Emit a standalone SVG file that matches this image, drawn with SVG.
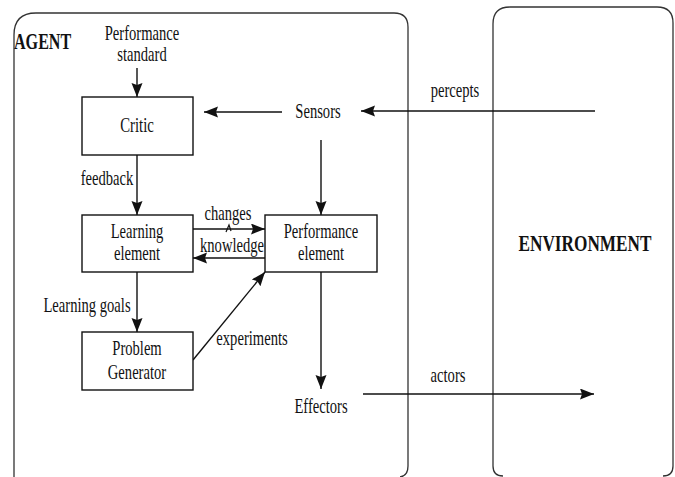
<svg xmlns="http://www.w3.org/2000/svg" width="675" height="477" viewBox="0 0 675 477">
  <defs>
    <marker id="arrow" markerUnits="userSpaceOnUse" markerWidth="15" markerHeight="12" refX="14" refY="5.5" orient="auto">
      <path d="M0,0 L14,5.5 L0,11 L2,5.5 Z" fill="#111"/>
    </marker>
    <style>
      .frame { fill: none; stroke: #333; stroke-width: 1.3; }
      .box { fill: #fff; stroke: #111; stroke-width: 1.4; }
      .edge { fill: none; stroke: #111; stroke-width: 1.4; marker-end: url(#arrow); }
      .t { font-family: "Liberation Serif", "Times New Roman", serif; font-size: 20px; fill: #111; text-anchor: middle; }
      .h { font-family: "Liberation Serif", "Times New Roman", serif; font-size: 23px; font-weight: bold; fill: #111; }
    </style>
  </defs>
  <rect width="675" height="477" fill="#fff"/>

  <!-- Agent and environment frames -->
  <g id="agent">
    <path class="frame" d="M14,477 Q14,470 14,466 L14,35 Q14,13 36,13 L394,13 Q408,13 408,27 L408,466 Q408,476 400,477"/>
    <text class="h" transform="translate(14,49) scale(0.7,1)">AGENT</text>
  </g>
  <g id="environment">
    <path class="frame" d="M503,476 Q493,476 493,466 L493,24 Q493,7 510,7 L657,7 Q673,7 673,23 L673,466 Q673,476 663,476"/>
    <text class="h" transform="translate(585,251) scale(0.75,1)" text-anchor="middle">ENVIRONMENT</text>
  </g>

  <!-- Connectors -->
  <g id="connectors">
    <line class="edge" x1="137" y1="68" x2="137" y2="97"/>
    <line class="edge" x1="282" y1="112" x2="204" y2="112"/>
    <line class="edge" x1="595" y1="111" x2="361" y2="111"/>
    <line class="edge" x1="321" y1="140" x2="321" y2="215"/>
    <line class="edge" x1="137" y1="155" x2="137" y2="215"/>
    <line class="edge" x1="193" y1="229" x2="265" y2="229"/>
    <path d="M226,232 L229,225 L231,231" fill="none" stroke="#111" stroke-width="1.2"/>
    <line class="edge" x1="265" y1="258" x2="193" y2="258"/>
    <line class="edge" x1="137" y1="272" x2="137" y2="332"/>
    <line class="edge" x1="193" y1="360" x2="265" y2="272"/>
    <line class="edge" x1="321" y1="272" x2="321" y2="389"/>
    <line class="edge" x1="363" y1="394" x2="594" y2="394"/>
  </g>

  <!-- Nodes -->
  <g id="performance-standard">
    <text class="t" transform="translate(142,40) scale(0.73,1)">Performance</text>
    <text class="t" transform="translate(142,61) scale(0.73,1)">standard</text>
  </g>
  <g id="critic">
    <rect class="box" x="82" y="97" width="111" height="58"/>
    <text class="t" transform="translate(137,132) scale(0.74,1)">Critic</text>
  </g>
  <g id="sensors">
    <text class="t" transform="translate(318,118) scale(0.73,1)">Sensors</text>
  </g>
  <g id="learning-element">
    <rect class="box" x="82" y="215" width="111" height="57"/>
    <text class="t" transform="translate(137,238) scale(0.73,1)">Learning</text>
    <text class="t" transform="translate(137,260) scale(0.73,1)">element</text>
  </g>
  <g id="performance-element">
    <rect class="box" x="265" y="215" width="112" height="57"/>
    <text class="t" transform="translate(321,238) scale(0.73,1)">Performance</text>
    <text class="t" transform="translate(321,260) scale(0.73,1)">element</text>
  </g>
  <g id="problem-generator">
    <rect class="box" x="82" y="332" width="111" height="58"/>
    <text class="t" transform="translate(137,355) scale(0.73,1)">Problem</text>
    <text class="t" transform="translate(137,379) scale(0.73,1)">Generator</text>
  </g>
  <g id="effectors">
    <text class="t" transform="translate(321,413) scale(0.73,1)">Effectors</text>
  </g>

  <!-- Connector labels -->
  <g id="labels">
    <text class="t" transform="translate(455,97) scale(0.73,1)">percepts</text>
    <text class="t" transform="translate(107,185) scale(0.73,1)">feedback</text>
    <text class="t" transform="translate(228,220) scale(0.73,1)">changes</text>
    <text class="t" transform="translate(232,252) scale(0.73,1)">knowledge</text>
    <text class="t" transform="translate(87,312) scale(0.73,1)">Learning goals</text>
    <text class="t" transform="translate(252,345) scale(0.73,1)">experiments</text>
    <text class="t" transform="translate(448,382) scale(0.73,1)">actors</text>
  </g>
</svg>
